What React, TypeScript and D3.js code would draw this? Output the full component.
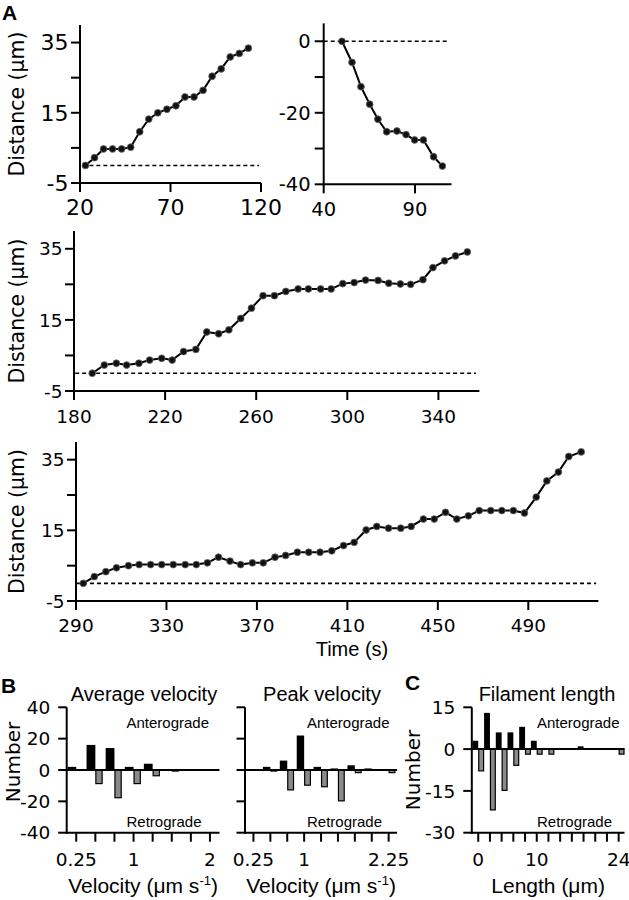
import React from 'react';
import * as d3 from 'd3';

// ---------- Data ----------
// Panel A, top-left trace
const p1Time = [23, 28, 33, 38, 43, 48, 53, 58, 63, 68, 73, 78, 83, 88, 93, 98, 103, 108, 113];
const p1Dist = [0, 2.2, 4.7, 4.7, 4.7, 5.2, 9.6, 13.2, 15.0, 16.0, 17.0, 19.5, 19.5, 21.4, 25.4, 27.5, 30.9, 31.9, 33.4];
// Panel A, top-right trace
const p2Time = [50, 55.5, 60.4, 65.2, 69.7, 74.5, 80.1, 85.1, 89.8, 94.6, 100.2, 105];
const p2Dist = [0, -5.9, -12.7, -17.6, -21.8, -25.3, -25.1, -26.1, -27.6, -27.6, -32.3, -34.9];
// Panel A, middle trace
const p3Time = [188, 193.3, 198.6, 203.1, 208.5, 213.2, 218.5, 223.1, 228.1, 233.5, 238.3, 243.5, 248, 253.2, 257.9, 263, 268, 273, 278.4, 282.9, 288.3, 292.9, 298, 303, 308, 313.5, 318.2, 323.3, 327.8, 333.2, 337.6, 342.7, 347.5, 352.7];
const p3Dist = [0, 2.3, 2.8, 2.3, 2.8, 3.7, 4.2, 3.7, 6.1, 6.7, 11.6, 11.1, 12.2, 15.4, 18.3, 21.8, 21.8, 23.0, 23.7, 23.7, 23.7, 23.7, 25.2, 25.5, 26.2, 26.1, 25.3, 25.1, 25.0, 26.3, 29.7, 31.6, 33.0, 34.1];
// Panel A, bottom trace
const p4Time = [293.2, 298.1, 303.2, 307.9, 313.2, 317.9, 323, 327.9, 333, 338.3, 343.2, 348.1, 353, 358.1, 362.8, 368, 372.8, 378, 382.7, 387.9, 392.9, 397.9, 403.1, 408.3, 413, 418.3, 423, 428.2, 433.6, 438.2, 443.6, 448.4, 453.4, 458.4, 463.5, 468.3, 473.4, 478.3, 483.4, 488.3, 493.5, 498.2, 503.3, 507.9, 513.4];
const p4Dist = [0, 1.9, 3.3, 4.4, 5.0, 5.3, 5.3, 5.3, 5.3, 5.3, 5.3, 5.8, 7.4, 6.3, 5.3, 5.8, 5.8, 7.4, 7.9, 8.8, 8.8, 8.8, 9.2, 10.7, 11.6, 15.1, 16.1, 15.6, 15.6, 16.1, 18.2, 18.2, 20.1, 18.2, 19.1, 20.6, 20.6, 20.6, 20.6, 19.9, 24.4, 29.0, 31.5, 35.9, 37.2];

// Tick values
const p1XTicks = [20, 70, 120];
const p2XTicks = [40, 90];
const p3XTicks = [180, 220, 260, 300, 340];
const p4XTicks = [290, 330, 370, 410, 450, 490];
const distYTicks = [-5, 15, 35];
const distYMinor = [5, 25];
const p2YTicks = [-40, -20, 0];
const p2YMinor = [-30, -10];

// Panel B: average velocity histogram
const avgBins = [0.25, 0.5, 0.75, 1, 1.25, 1.5, 1.75, 2];
const avgAntero = [2, 16, 14, 2, 4, 0, 0, 0];
const avgRetro = [0, -9, -18, -9, -4, -1, 0, 0];
const avgTickLabels = ['0.25', '1', '2'];
// Panel B: peak velocity histogram
const peakBins = [0.25, 0.5, 0.75, 1, 1.25, 1.5, 1.75, 2, 2.25];
const peakAntero = [0, 2, 6, 22, 2, 1, 3, 1, 0];
const peakRetro = [0, -1, -13, -10, -11, -20, -2, 0, -2];
const peakTickLabels = ['0.25', '1', '2.25'];
const velYTicks = [-40, -20, 0, 20, 40];
// Panel C: filament length histogram
const lenBins = [0, 2, 4, 6, 8, 10, 12, 14, 16, 18, 20, 22, 24];
const lenAntero = [3, 13, 6, 6, 8, 3, 0, 0, 0, 1, 0, 0, 0];
const lenRetro = [-8, -22, -15, -6, -2, -2, -2, 0, 0, 0, 0, 0, -2];
const lenTickLabels = ['0', '10', '24'];
const lenYTicks = [-30, -15, 0, 15];

// ---------- Styles ----------
const NUM_FONT = 'DejaVu Sans, sans-serif';
const TXT_FONT = 'Liberation Sans, Arial, Helvetica, sans-serif';
const TICK = 9;
const GRAY = '#8a8a8a';

type TraceProps = {
  time: number[]; dist: number[];
  xDomain: [number, number]; xRange: [number, number];
  yDomain: [number, number]; yRange: [number, number];
  xTicks: number[]; yTicks: number[]; yMinor: number[];
  dotDomain: [number, number];
  tickFont: number; yLabelGap: number; xLabelOffset: number;
  showYLabel: boolean;
};

function Trace(p: TraceProps) {
  const x = d3.scaleLinear().domain(p.xDomain).range(p.xRange);
  const y = d3.scaleLinear().domain(p.yDomain).range(p.yRange);
  const pts = p.time.map((t, i) => [t, p.dist[i]] as [number, number]);
  const line = d3.line<[number, number]>().x(d => x(d[0])).y(d => y(d[1]));
  const x0 = p.xRange[0];
  const yBase = p.yRange[0];
  const yMid = (p.yRange[0] + p.yRange[1]) / 2;
  return (
    <g>
      {/* zero reference */}
      <line x1={x(p.dotDomain[0])} x2={x(p.dotDomain[1])} y1={y(0)} y2={y(0)}
        stroke="#000" strokeWidth={1.6} strokeDasharray="4,3" />
      {/* axes */}
      <line x1={x0} x2={x0} y1={p.yRange[1]} y2={yBase + 1} stroke="#000" strokeWidth={2} />
      <line x1={x0 - 1} x2={p.xRange[1]} y1={yBase} y2={yBase} stroke="#000" strokeWidth={2} />
      {[...p.yTicks, ...p.yMinor].map(v => (
        <line key={'yt' + v} x1={x0 - TICK} x2={x0} y1={y(v)} y2={y(v)} stroke="#000" strokeWidth={2} />
      ))}
      {p.yTicks.map(v => (
        <text key={'yl' + v} x={x0 - p.yLabelGap} y={y(v)} dy="0.36em" textAnchor="end"
          fontFamily={NUM_FONT} fontSize={p.tickFont}>{v}</text>
      ))}
      {p.xTicks.map(v => (
        <g key={'xt' + v}>
          <line x1={x(v)} x2={x(v)} y1={yBase} y2={yBase + TICK} stroke="#000" strokeWidth={2} />
          <text x={x(v)} y={yBase + p.xLabelOffset} textAnchor="middle" fontFamily={NUM_FONT} fontSize={p.tickFont}>{v}</text>
        </g>
      ))}
      {p.showYLabel && (
        <text transform={`translate(24,${yMid}) rotate(-90)`} textAnchor="middle"
          fontFamily={NUM_FONT} fontSize={20.5}>Distance (μm)</text>
      )}
      <path d={line(pts) || ''} fill="none" stroke="#000" strokeWidth={2} />
      {pts.map((d, i) => (
        <circle key={i} cx={x(d[0])} cy={y(d[1])} r={3.4} fill="#111" stroke="#666" strokeWidth={0.8} />
      ))}
    </g>
  );
}

type HistProps = {
  bins: number[]; antero: number[]; retro: number[];
  xDomain: [number, number]; xRange: [number, number];
  yDomain: [number, number]; yRange: [number, number];
  yTicks: number[]; showYLabels: boolean;
  tickLabels: string[];
  blackW: number; grayW: number;
  title: string; titleX: number;
  xLabel: React.ReactNode;
  textX: number;
  numberLabel?: { x: number; y: number };
};

function Hist(p: HistProps) {
  const x = d3.scaleLinear().domain(p.xDomain).range(p.xRange);
  const y = d3.scaleLinear().domain(p.yDomain).range(p.yRange);
  const x0 = p.xRange[0];
  const yBase = p.yRange[0];
  const xMid = (p.xRange[0] + p.xRange[1]) / 2;
  return (
    <g>
      {p.bins.map((b, i) => p.antero[i] > 0 ? (
        <rect key={'a' + i} x={x(b - p.blackW)} width={x(b) - x(b - p.blackW)}
          y={y(p.antero[i])} height={y(0) - y(p.antero[i])} fill="#000" />
      ) : null)}
      {p.bins.map((b, i) => p.retro[i] < 0 ? (
        <rect key={'r' + i} x={x(b) + 0.5} width={x(b + p.grayW) - x(b) - 1}
          y={y(0)} height={y(p.retro[i]) - y(0) - 0.5} fill={GRAY} stroke="#000" strokeWidth={1.2} />
      ) : null)}
      <line x1={x0} x2={p.xRange[1]} y1={y(0)} y2={y(0)} stroke="#000" strokeWidth={2} />
      <line x1={x0} x2={x0} y1={p.yRange[1]} y2={yBase + 1} stroke="#000" strokeWidth={2} />
      <line x1={x0 - 1} x2={p.xRange[1]} y1={yBase} y2={yBase} stroke="#000" strokeWidth={2} />
      {p.yTicks.map(v => (
        <g key={'yt' + v}>
          <line x1={x0 - 8.5} x2={x0} y1={y(v)} y2={y(v)} stroke="#000" strokeWidth={2} />
          {p.showYLabels && (
            <text x={x0 - 16.5} y={y(v)} dy="0.36em" textAnchor="end" fontFamily={NUM_FONT} fontSize={18.5}>{v}</text>
          )}
        </g>
      ))}
      {p.bins.map(b => (
        <line key={'xt' + b} x1={x(b)} x2={x(b)} y1={yBase} y2={yBase + TICK} stroke="#000" strokeWidth={2} />
      ))}
      {p.tickLabels.map(l => (
        <text key={'xl' + l} x={x(+l)} y={866} textAnchor="middle" fontFamily={NUM_FONT} fontSize={18.5}>{l}</text>
      ))}
      <text x={p.titleX} y={701} textAnchor="middle" fontFamily={TXT_FONT} fontSize={20}>{p.title}</text>
      <text x={p.textX} y={728} fontFamily={TXT_FONT} fontSize={15}>Anterograde</text>
      <text x={p.textX} y={827} fontFamily={TXT_FONT} fontSize={15}>Retrograde</text>
      <text x={xMid} y={893} textAnchor="middle" fontFamily={TXT_FONT} fontSize={21}>{p.xLabel}</text>
      {p.numberLabel && (
        <text transform={`translate(${p.numberLabel.x},${p.numberLabel.y}) rotate(-90)`} textAnchor="middle"
          fontFamily={NUM_FONT} fontSize={20}>Number</text>
      )}
    </g>
  );
}

const velLabel = (
  <>
    Velocity (μm s<tspan dy={-8} fontSize={13}>-1</tspan><tspan dy={8}>)</tspan>
  </>
);

export default function App() {
  return (
    <svg width={629} height={900} viewBox="0 0 629 900"
      style={{ position: 'absolute', left: 0, top: 0, background: '#fff' }}>
      <rect width={629} height={900} fill="#fff" />
      <text x={2} y={20} fontFamily={TXT_FONT} fontWeight="bold" fontSize={21}>A</text>
      <text x={1} y={693} fontFamily={TXT_FONT} fontWeight="bold" fontSize={21}>B</text>
      <text x={405} y={690} fontFamily={TXT_FONT} fontWeight="bold" fontSize={21}>C</text>

      <Trace time={p1Time} dist={p1Dist} xDomain={[20, 120]} xRange={[80, 261]}
        yDomain={[-5, 40]} yRange={[183, 25]} xTicks={p1XTicks} yTicks={distYTicks} yMinor={distYMinor}
        dotDomain={[21.3, 119]} tickFont={22} yLabelGap={11.5} xLabelOffset={32} showYLabel />
      <Trace time={p2Time} dist={p2Dist} xDomain={[40, 110]} xRange={[323.7, 451.5]}
        yDomain={[-40, 5]} yRange={[184.3, 23.4]} xTicks={p2XTicks} yTicks={p2YTicks} yMinor={p2YMinor}
        dotDomain={[40, 109]} tickFont={19.5} yLabelGap={13} xLabelOffset={32} showYLabel={false} />
      <Trace time={p3Time} dist={p3Dist} xDomain={[180, 358]} xRange={[74, 479.4]}
        yDomain={[-5, 40]} yRange={[391, 231]} xTicks={p3XTicks} yTicks={distYTicks} yMinor={distYMinor}
        dotDomain={[180.5, 356.5]} tickFont={18.5} yLabelGap={11.5} xLabelOffset={32} showYLabel />
      <Trace time={p4Time} dist={p4Dist} xDomain={[290, 521]} xRange={[76, 598.4]}
        yDomain={[-5, 40]} yRange={[601, 442]} xTicks={p4XTicks} yTicks={distYTicks} yMinor={distYMinor}
        dotDomain={[290, 520]} tickFont={18.5} yLabelGap={11.5} xLabelOffset={30.5} showYLabel />
      <text x={352} y={656} textAnchor="middle" fontFamily={TXT_FONT} fontSize={20}>Time (s)</text>

      <Hist bins={avgBins} antero={avgAntero} retro={avgRetro}
        xDomain={[0.125, 2.125]} xRange={[66.7, 219.5]} yDomain={[-40, 40]} yRange={[832.7, 707.3]}
        yTicks={velYTicks} showYLabels tickLabels={avgTickLabels} blackW={0.115} grayW={0.095}
        title="Average velocity" titleX={144} xLabel={velLabel} textX={126.5}
        numberLabel={{ x: 20, y: 762 }} />
      <Hist bins={peakBins} antero={peakAntero} retro={peakRetro}
        xDomain={[0.125, 2.375]} xRange={[245, 397.1]} yDomain={[-40, 40]} yRange={[832.7, 707.3]}
        yTicks={velYTicks} showYLabels={false} tickLabels={peakTickLabels} blackW={0.11} grayW={0.1}
        title="Peak velocity" titleX={322} xLabel={velLabel} textX={307} />
      <Hist bins={lenBins} antero={lenAntero} retro={lenRetro}
        xDomain={[-1.1, 25]} xRange={[471.8, 624.5]} yDomain={[-30, 15]} yRange={[832.7, 707.3]}
        yTicks={lenYTicks} showYLabels tickLabels={lenTickLabels} blackW={1} grayW={1}
        title="Filament length" titleX={547} xLabel="Length (μm)" textX={537}
        numberLabel={{ x: 420, y: 770 }} />
    </svg>
  );
}
